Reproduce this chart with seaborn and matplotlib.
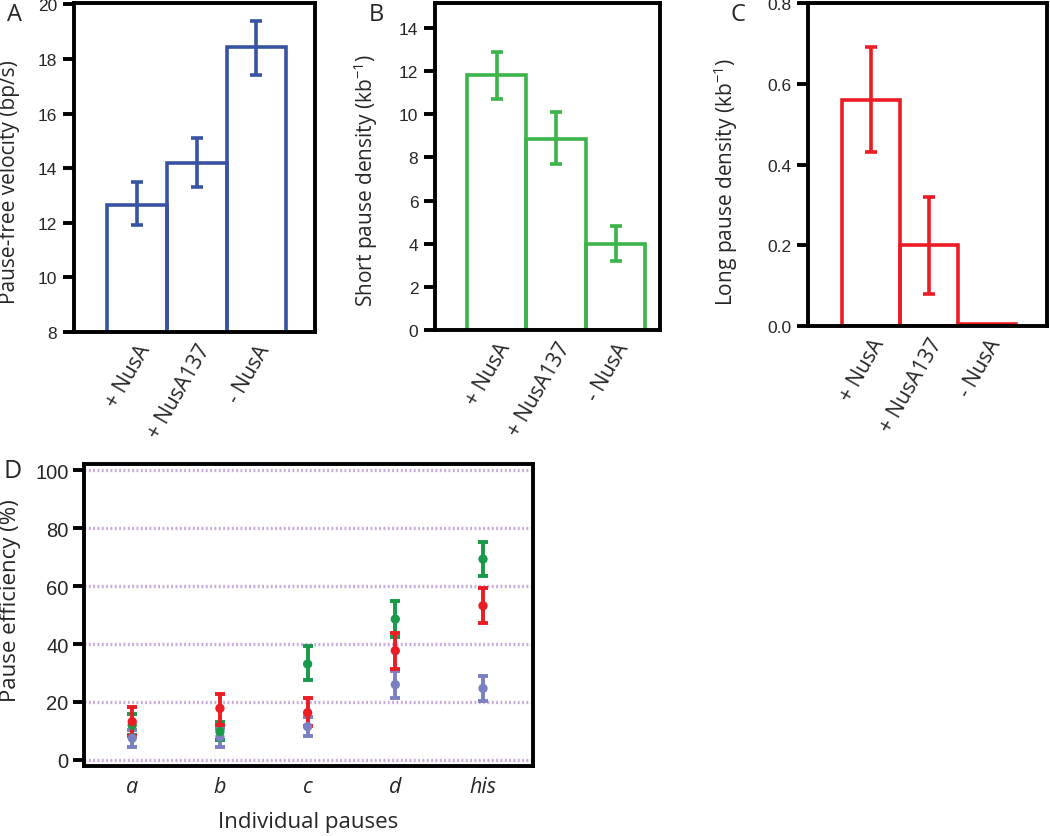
import numpy as np
import pandas as pd
import matplotlib
matplotlib.use("Agg")
import matplotlib.pyplot as plt
import seaborn as sns

sns.set_theme(style="white")
plt.rcParams['font.family'] = ['Liberation Sans', 'DejaVu Sans']

# ---------------- data ----------------
conditions = ["+ NusA", "+ NusA137", "- NusA"]

velocity = [12.65, 14.2, 18.45]
velocity_lo = [11.9, 13.3, 17.4]
velocity_hi = [13.5, 15.1, 19.4]

short_density = [11.8, 8.85, 4.0]
short_lo = [10.7, 7.7, 3.2]
short_hi = [12.9, 10.1, 4.8]

long_density = [0.56, 0.2, 0.005]
long_lo = [0.43, 0.08, None]
long_hi = [0.69, 0.32, None]

pauses = ["a", "b", "c", "d", "his"]
eff_minus = [7.5, 8.0, 11.5, 26.0, 24.7]
eff_minus_lo = [4.6, 4.6, 8.2, 21.2, 20.4]
eff_minus_hi = [10.5, 11.0, 14.8, 30.8, 29.1]

eff_nusa = [12.0, 9.8, 33.1, 48.6, 69.3]
eff_nusa_lo = [8.5, 7.0, 27.7, 42.3, 63.3]
eff_nusa_hi = [15.9, 13.0, 39.4, 54.9, 75.3]

eff_137 = [13.2, 17.8, 16.3, 37.7, 53.2]
eff_137_lo = [8.4, 12.1, 11.6, 31.4, 47.1]
eff_137_hi = [18.4, 22.8, 21.2, 43.8, 59.3]

# ---------------- style ----------------
BLUE = "#3953a4"
GREEN = "#3cb44a"
RED = "#ed1c24"
D_BLUE = "#7b80c2"
D_GREEN = "#19994a"
D_RED = "#ec1c24"
GRID = "#c8a9dc"
LABEL_FONT = ['Open Sans', 'DejaVu Sans']

fig = plt.figure(figsize=(10.5, 8.37), dpi=100)


def style_axis(ax):
    for s in ax.spines.values():
        s.set_visible(True)
        s.set_color("black")
        s.set_linewidth(2.8)
    ax.tick_params(axis="y", which="major", direction="out", length=8, width=2.8,
                   color="black", labelsize=12.5, pad=4, left=True)
    ax.tick_params(axis="x", length=0, pad=6)
    ax.grid(False)


def bar_panel(rect, values, lo, hi, color, ylim, yticks, ylabel, xlim, letter, letter_xy,
              label_xy, tickfmt):
    ax = fig.add_axes(rect)
    df = pd.DataFrame({"cond": conditions, "val": values})
    sns.barplot(data=df, x="cond", y="val", order=conditions, fill=False, width=1.0,
                errorbar=None, color=color, linewidth=2.6, ax=ax)
    for patch in ax.patches:
        patch.set_edgecolor(color)
        patch.set_linewidth(2.6)
    for i, (v, l, h) in enumerate(zip(values, lo, hi)):
        if l is None:
            continue
        ax.errorbar([i], [v], yerr=[[v - l], [h - v]], fmt="none", ecolor=color,
                    elinewidth=2.6, capsize=4, capthick=2.6)
    ax.set_ylim(*ylim)
    ax.set_xlim(*xlim)
    ax.set_yticks(yticks)
    ax.set_yticklabels([tickfmt.format(t) for t in yticks])
    ax.set_xlabel("")
    ax.set_ylabel(ylabel, fontsize=15, family=LABEL_FONT)
    ax.yaxis.set_label_coords(*label_xy)
    style_axis(ax)
    ax.set_xticks(range(len(conditions)))
    ax.set_xticklabels(conditions, rotation=60, ha="right", rotation_mode="anchor",
                       fontsize=15, family=LABEL_FONT)
    fig.text(letter_xy[0], letter_xy[1], letter, fontsize=17, family=LABEL_FONT,
             ha="center", va="center")
    return ax


bar_panel([0.0705, 0.6022, 0.2295, 0.393], velocity, velocity_lo, velocity_hi, BLUE,
          (8, 20.05), [8, 10, 12, 14, 16, 18, 20], "Pause-free velocity (bp/s)",
          (-1.05, 2.98), "A", (14 / 1050, 1 - 15 / 837), (-0.225, 0.46), "{:g}")

bar_panel([0.4143, 0.6045, 0.2143, 0.3907], short_density, short_lo, short_hi, GREEN,
          (0, 15.15), [0, 2, 4, 6, 8, 10, 12, 14], "Short pause density (kb$^{\\mathregular{-1}}$)",
          (-1.04, 2.75), "B", (376 / 1050, 1 - 15 / 837), (-0.245, 0.46), "{:g}")

bar_panel([0.7695, 0.6093, 0.2276, 0.3859], long_density, long_lo, long_hi, RED,
          (0, 0.8), [0.0, 0.2, 0.4, 0.6, 0.8], "Long pause density (kb$^{\\mathregular{-1}}$)",
          (-1.08, 3.03), "C", (738 / 1050, 1 - 15 / 837), (-0.285, 0.45), "{:.1f}")

# ---------------- panel D ----------------
axd = fig.add_axes([0.08, 0.0836, 0.4276, 0.3608])
for yv in [0, 20, 40, 60, 80, 100]:
    axd.axhline(yv, color=GRID, linewidth=2.4, linestyle=(0, (0.55, 0.75)), zorder=0)

series = [
    ("- NusA", eff_minus, eff_minus_lo, eff_minus_hi, D_BLUE),
    ("+ NusA", eff_nusa, eff_nusa_lo, eff_nusa_hi, D_GREEN),
    ("+ NusA137", eff_137, eff_137_lo, eff_137_hi, D_RED),
]
xs = np.arange(len(pauses))
for name, vals, lo, hi, col in series:
    dfp = pd.DataFrame({"pause": pauses, "eff": vals})
    vals_a = np.array(vals)
    axd.errorbar(xs, vals_a, yerr=[vals_a - np.array(lo), np.array(hi) - vals_a],
                 fmt="none", ecolor=col, elinewidth=2.8, capsize=3.5, capthick=2.8, zorder=3)
    sns.scatterplot(data=dfp, x="pause", y="eff", color=col, s=45, edgecolor="none",
                    ax=axd, zorder=4)

axd.set_xlim(-0.55, 4.57)
axd.set_ylim(-2.1, 102.1)
axd.set_yticks([0, 20, 40, 60, 80, 100])
axd.set_yticklabels(["0", "20", "40", "60", "80", "100"])
style_axis(axd)
axd.tick_params(axis="y", labelsize=14.5, pad=3)
axd.set_xticks(xs)
axd.set_xticklabels(pauses, fontsize=15.5, family=LABEL_FONT, style="italic")
axd.tick_params(axis="x", pad=7)
axd.set_xlabel("Individual pauses", fontsize=16, family=LABEL_FONT, labelpad=10)
axd.set_ylabel("Pause efficiency (%)", fontsize=16, family=LABEL_FONT)
axd.yaxis.set_label_coords(-0.14, 0.55)
fig.text(13 / 1050, 1 - 472 / 837, "D", fontsize=18, family=LABEL_FONT, ha="center", va="center")

fig.savefig("out.png", dpi=100)
